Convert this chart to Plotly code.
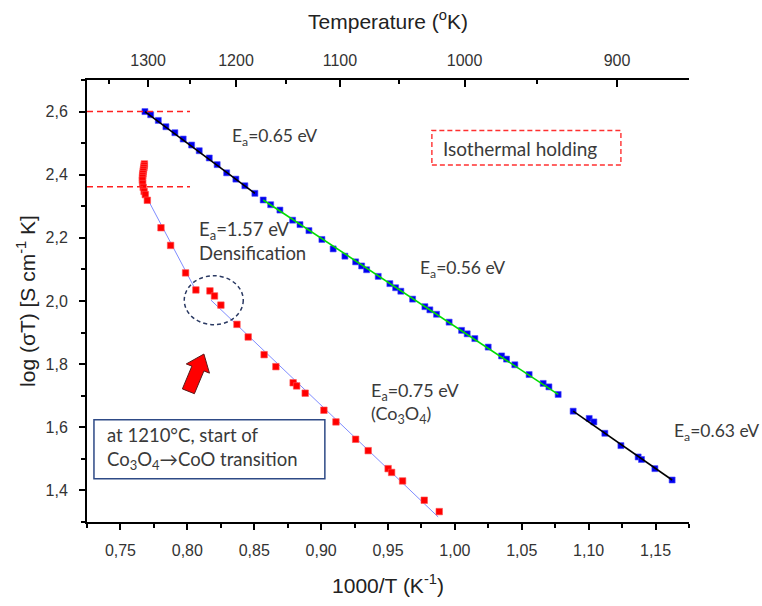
import numpy as np
import plotly.graph_objects as go

# ---- measured conductivity, log(sigma*T) vs 1000/T ----
# heating run (blue squares)
blue_x = [0.7683, 0.7726, 0.7783, 0.7840, 0.7907, 0.7969, 0.8032, 0.8089, 0.8164, 0.8223,
          0.8294, 0.8363, 0.8430, 0.8505,
          0.8567, 0.8623, 0.8692, 0.8787, 0.8842, 0.8909, 0.9006, 0.9090, 0.9178, 0.9258,
          0.9303, 0.9340, 0.9427, 0.9514, 0.9557, 0.9596, 0.9684, 0.9776, 0.9813, 0.9863,
          0.9957, 1.0050, 1.0092, 1.0149, 1.0249, 1.0349, 1.0386, 1.0448, 1.0555, 1.0660,
          1.0703, 1.0772,
          1.0884, 1.1004, 1.1039, 1.1121, 1.1241, 1.1370, 1.1395, 1.1495, 1.1624]
blue_y = [2.600, 2.590, 2.572, 2.552, 2.533, 2.513, 2.494, 2.476, 2.453, 2.432,
          2.406, 2.386, 2.365, 2.341,
          2.320, 2.305, 2.288, 2.256, 2.242, 2.223, 2.195, 2.165, 2.142, 2.124,
          2.111, 2.099, 2.078, 2.055, 2.042, 2.031, 2.006, 1.982, 1.972, 1.958,
          1.933, 1.907, 1.896, 1.881, 1.854, 1.826, 1.816, 1.798, 1.767, 1.739,
          1.728, 1.704,
          1.651, 1.628, 1.617, 1.581, 1.542, 1.506, 1.498, 1.469, 1.433]

# cooling run after holding (red squares)
red_x = [0.7679, 0.7677, 0.7675, 0.7672, 0.7670, 0.7668, 0.7666, 0.7665, 0.7664, 0.7666,
         0.7670, 0.7677, 0.7686, 0.7701,
         0.7803, 0.7875, 0.7987, 0.8064, 0.8169, 0.8203, 0.8251, 0.8371, 0.8455, 0.8574,
         0.8662, 0.8791, 0.8817, 0.8881, 0.9021, 0.9111, 0.9258, 0.9352, 0.9501, 0.9527,
         0.9609, 0.9771, 0.9883]
red_y = [2.434, 2.428, 2.422, 2.416, 2.410, 2.403, 2.397, 2.391, 2.383, 2.372,
         2.360, 2.347, 2.337, 2.319,
         2.232, 2.176, 2.089, 2.035, 2.032, 2.016, 1.987, 1.926, 1.886, 1.830,
         1.792, 1.741, 1.731, 1.708, 1.654, 1.617, 1.562, 1.526, 1.469, 1.457,
         1.430, 1.369, 1.333]

# Arrhenius fit segments (start, end)
fit_blue_1_x = [0.7683, 0.8505]; fit_blue_1_y = [2.600, 2.341]
fit_green_x = [0.8567, 1.0772];  fit_green_y = [2.320, 1.704]
fit_blue_2_x = [1.0884, 1.1624]; fit_blue_2_y = [1.651, 1.433]
fit_red_1_x = [0.7708, 0.8072];  fit_red_1_y = [2.319, 2.027]
fit_red_2_x = [0.8176, 0.9875];  fit_red_2_y = [2.003, 1.316]

# reference levels of the isothermal holding
hold_levels = [2.600, 2.362]
hold_x_end = 0.802

# axes
x_range = [0.725, 1.175]
y_range = [1.3, 2.7]
x_ticks = [0.75, 0.80, 0.85, 0.90, 0.95, 1.00, 1.05, 1.10, 1.15]
x_ticklabels = ["0,75", "0,80", "0,85", "0,90", "0,95", "1,00", "1,05", "1,10", "1,15"]
y_ticks = [1.4, 1.6, 1.8, 2.0, 2.2, 2.4, 2.6]
y_ticklabels = ["1,4", "1,6", "1,8", "2,0", "2,2", "2,4", "2,6"]
temp_ticks = [1300, 1200, 1100, 1000, 900]
temp_minor = [1350, 1250, 1150, 1050, 950]
top_range = [0.7247, 1.1636]

TXT = "#3a3a3a"
LBL = "Lato, 'Open Sans', sans-serif"
AX = "'Liberation Sans', Arial, sans-serif"

fig = go.Figure()

# red fit lines (under the markers)
for fx, fy in [(fit_red_1_x, fit_red_1_y), (fit_red_2_x, fit_red_2_y)]:
    fig.add_trace(go.Scatter(x=fx, y=fy, mode="lines",
                             line=dict(color="#7f8cff", width=1), hoverinfo="skip"))

fig.add_trace(go.Scatter(x=red_x, y=red_y, mode="markers",
                         marker=dict(symbol="square", size=6.5, color="#ff0000",
                                     line=dict(color="#ff5050", width=0.6))))
fig.add_trace(go.Scatter(x=blue_x, y=blue_y, mode="markers",
                         marker=dict(symbol="square", size=6, color="#0000ee",
                                     line=dict(color="#4a4aff", width=0.6))))

# blue fit lines on top
fig.add_trace(go.Scatter(x=fit_blue_1_x, y=fit_blue_1_y, mode="lines",
                         line=dict(color="black", width=1.6)))
fig.add_trace(go.Scatter(x=fit_green_x, y=fit_green_y, mode="lines",
                         line=dict(color="#00dd00", width=1.6)))
fig.add_trace(go.Scatter(x=fit_blue_2_x, y=fit_blue_2_y, mode="lines",
                         line=dict(color="black", width=1.6)))

# invisible trace that carries the temperature axis
fig.add_trace(go.Scatter(x=top_range, y=y_range, xaxis="x2", mode="markers",
                         marker=dict(opacity=0), hoverinfo="skip"))

# dashed red holding levels
for lv in hold_levels:
    fig.add_shape(type="line", x0=x_range[0], x1=hold_x_end, y0=lv, y1=lv,
                  xref="x", yref="y", line=dict(color="#ff2020", width=1.4, dash="6px,4px"))

# dashed ellipse around the transition
fig.add_shape(type="circle", x0=0.7977, x1=0.8418, y0=1.925, y1=2.080,
              xref="x", yref="y", line=dict(color="#2b3a63", width=1.5, dash="4px,3px"))

# "Isothermal holding" box
fig.add_shape(type="rect", x0=0.9828, x1=1.1241, y0=2.431, y1=2.540,
              xref="x", yref="y", line=dict(color="#ff3030", width=1.4, dash="5px,3px"))

# transition note box
fig.add_shape(type="rect", x0=0.7302, x1=0.9028, y0=1.437, y1=1.624,
              xref="x", yref="y", line=dict(color="#2e4a86", width=1.5),
              fillcolor="white")

# block arrow pointing at the transition
plot_w, plot_h = 602.0, 452.0
sx = plot_w / (x_range[1] - x_range[0])
sy = plot_h / (y_range[1] - y_range[0])
tip = np.array([0.8124, 1.832])
tail = np.array([0.8008, 1.714])
tp = np.array([(tip[0] - x_range[0]) * sx, (tip[1] - y_range[0]) * sy])
tl = np.array([(tail[0] - x_range[0]) * sx, (tail[1] - y_range[0]) * sy])
u = (tp - tl) / np.linalg.norm(tp - tl)
n = np.array([u[1], -u[0]])
head_len, body_w, head_w = 16.0, 6.5, 12.5
base = tp - u * head_len
pts = [tl + n * body_w, base + n * body_w, base + n * head_w, tp,
       base - n * head_w, base - n * body_w, tl - n * body_w]
path = "M " + " L ".join(f"{p[0] / sx + x_range[0]:.5f},{p[1] / sy + y_range[0]:.5f}" for p in pts) + " Z"
fig.add_shape(type="path", path=path, xref="x", yref="y",
              fillcolor="#ff0000", line=dict(color="#5a1a1a", width=1))

def note(x, y, text, size=19, anchor="left"):
    fig.add_annotation(x=x, y=y, text=text, xref="x", yref="y", showarrow=False,
                       xanchor=anchor, yanchor="middle", align="left",
                       font=dict(family=LBL, size=size, color=TXT))

note(0.8318, 2.518, "E<sub>a</sub>=0.65 eV", size=17.5)
note(1.0486, 2.484, "Isothermal holding", anchor="center")
note(0.8072, 2.190, "E<sub>a</sub>=1.57 eV<br>Densification", size=18.5)
note(0.9723, 2.102, "E<sub>a</sub>=0.56 eV", size=17.5)
note(0.9357, 1.676, "E<sub>a</sub>=0.75 eV<br>(Co<sub>3</sub>O<sub>4</sub>)", size=18)
note(1.1622, 1.586, "E<sub>a</sub>=0.63 eV", size=17.5)
note(0.7384, 1.532, "at 1210°C, start of<br>Co<sub>3</sub>O<sub>4</sub>→CoO transition", size=18.5)

tickfont = dict(family=AX, size=16, color="#333333")
titlefont = dict(family=AX, size=21, color="#222222")

fig.update_layout(
    width=762, height=606,
    margin=dict(l=87, r=73, t=80, b=74),
    paper_bgcolor="white", plot_bgcolor="white",
    showlegend=False,
    xaxis=dict(range=x_range, tickmode="array", tickvals=x_ticks, ticktext=x_ticklabels,
               ticks="outside", ticklen=6, tickwidth=1.8, tickcolor="black",
               showline=True, linecolor="black", linewidth=2, showgrid=False, zeroline=False,
               tickfont=tickfont, ticklabelstandoff=7,
               minor=dict(tickmode="linear", tick0=0.725, dtick=0.05, ticks="outside",
                          ticklen=4, tickwidth=1.5, tickcolor="black", showgrid=False),
               title=dict(text="1000/T (K<sup>-1</sup>)", font=titlefont, standoff=20)),
    xaxis2=dict(range=top_range, overlaying="x", side="top", anchor="y",
                tickmode="array", tickvals=[1000.0 / t for t in temp_ticks],
                ticktext=[str(t) for t in temp_ticks],
                ticks="inside", ticklen=7, tickwidth=1.8, tickcolor="black",
                showline=True, linecolor="black", linewidth=2, showgrid=False, zeroline=False,
                tickfont=tickfont, ticklabelstandoff=6,
                minor=dict(tickmode="array", tickvals=[1000.0 / t for t in temp_minor],
                           ticks="inside", ticklen=4, tickwidth=1.5, tickcolor="black",
                           showgrid=False),
                title=dict(text="Temperature (<sup>o</sup>K)", font=titlefont, standoff=16)),
    yaxis=dict(range=y_range, tickmode="array", tickvals=y_ticks, ticktext=y_ticklabels,
               ticks="outside", ticklen=6, tickwidth=1.8, tickcolor="black",
               showline=True, linecolor="black", linewidth=2, showgrid=False, zeroline=False,
               tickfont=tickfont, ticklabelstandoff=8,
               minor=dict(tickmode="linear", tick0=1.3, dtick=0.2, ticks="outside",
                          ticklen=4, tickwidth=1.5, tickcolor="black", showgrid=False),
               title=dict(text="log (σT) [S cm<sup>-1</sup> K]", font=titlefont, standoff=4)),
)

fig.write_html("out.html")
